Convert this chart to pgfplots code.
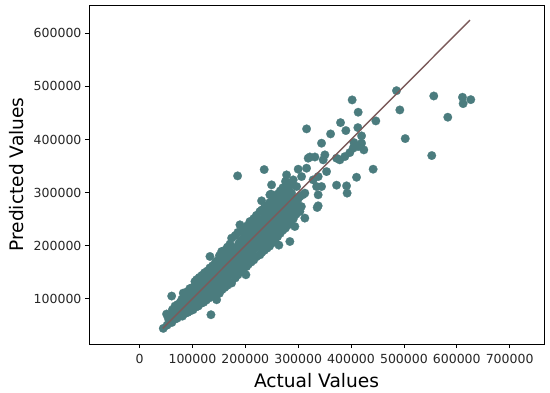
\documentclass[border=0pt]{standalone}
\usepackage{pgfplots}
\pgfplotsset{compat=1.18}
\usepackage{fontspec}
\setmainfont{DejaVu Sans}
\definecolor{ptcol}{HTML}{4B7C7E}
\definecolor{lncol}{HTML}{7B5A5A}
\begin{document}
\begin{tikzpicture}
\path[use as bounding box] (-89pt,-48pt) rectangle (461pt,344pt);
\begin{axis}[
  scale only axis, width=455pt, height=339pt,
  xmin=-95700, xmax=765000, ymin=14500, ymax=653500,
  xtick={0,100000,200000,300000,400000,500000,600000,700000},
  ytick={100000,200000,300000,400000,500000,600000},
  scaled ticks=false,
  /pgf/number format/.cd, fixed, 1000 sep={}, assume math mode=true,
  /pgfplots/.cd,
  clip marker paths=true,
  tick align=outside, xtick pos=bottom, ytick pos=left,
  major tick length=4pt,
  tick style={black, line width=0.8pt},
  axis line style={black, line width=0.8pt},
  ticklabel style={font=\fontsize{12.5}{15}\selectfont, text=black!85},
  xticklabel style={yshift=-2.5pt},
  xlabel={Actual Values}, ylabel={Predicted Values},
  xlabel style={font=\fontsize{18.6}{22}\selectfont, at={(axis description cs:0.5,-0.1289)}, anchor=base},
  ylabel style={font=\fontsize{18.6}{22}\selectfont, at={(axis description cs:-0.1444,0.5)}, anchor=base},
]
\addplot[only marks, mark=*, mark size=4.3pt, mark options={fill=ptcol, draw=ptcol, line width=0.2pt}] coordinates {
(44800,43900)
(51000,71000) (52000,50000) (56000,59000) (54000,64000)
(61000,55000) (59000,68000) (62000,79000) (60700,104900)
(66000,61000) (64000,73000) (67000,86000)
(71000,63000) (69000,77000) (72000,89000)
(76000,69000) (74000,81000) (77000,93000)
(81000,67000) (79000,79000) (82000,91000) (80000,99000) (82600,110500)
(86000,72000) (84000,85000) (87000,96000) (85000,105000)
(91000,74000) (89000,86000) (92000,101000) (90000,113000)
(96000,77000) (94000,91000) (97000,103000) (95000,119000)
(101000,79000) (99000,93000) (102000,107000) (100000,121000) (104700,132400)
(106000,84000) (104000,97000) (107000,111000) (105000,124000) (108000,136000)
(111000,86000) (109000,101000) (112000,115000) (110000,129000) (113000,140000)
(116000,91000) (114000,104000) (117000,119000) (115000,133000) (118000,144000)
(121000,93000) (119000,107000) (122000,121000) (120000,135000) (123000,149000)
(126000,97000) (124000,111000) (127000,125000) (125000,139000) (128000,152000)
(131000,101000) (129000,115000) (132000,129000) (130000,143000) (133000,158000)
(133100,179500) (135000,69700)
(136000,104000) (134000,118000) (137000,133000) (135000,147000) (138000,162000)
(141000,107000) (139000,121000) (142000,137000) (140000,151000) (143000,167000)
(145700,97900) (144000,112000) (147000,127000) (145000,141000) (148000,156000) (146000,171000)
(151000,110000) (149000,125000) (152000,139000) (150000,153000) (153000,167000) (151000,181000)
(156000,117000) (154000,131000) (157000,145000) (155000,159000) (158000,173000) (155200,188900)
(161000,121000) (159000,135000) (162000,149000) (160000,163000) (163000,177000) (161000,191000)
(166000,125000) (164000,139000) (167000,153000) (165000,167000) (168000,181000) (166000,197000)
(171000,131000) (169000,145000) (172000,159000) (170000,173000) (173000,187000) (171000,203000)
(174100,129400) (176000,147000) (177000,163000) (175000,177000) (178000,193000) (174100,214100)
(181000,139000) (179000,153000) (182000,167000) (180000,181000) (183000,197000) (181000,219000)
(186000,145000) (184000,159000) (187000,173000) (185000,189000) (188000,205000) (186000,225000) (185400,331400)
(191000,151000) (189000,165000) (192000,179000) (190000,195000) (193000,211000) (189800,239200)
(196000,155000) (194000,169000) (197000,185000) (195000,201000) (198000,217000) (196000,231000)
(201100,145000) (202400,160600) (201000,175000) (199000,191000) (202000,207000) (200000,223000) (203000,237000)
(206000,165000) (204000,181000) (207000,197000) (205000,213000) (208000,229000) (208700,245400)
(211000,169000) (209000,185000) (212000,201000) (210000,217000) (213000,233000)
(216000,173000) (214000,189000) (217000,205000) (215000,221000) (218000,237000) (216000,251000)
(221000,179000) (219000,195000) (222000,211000) (220000,227000) (223000,243000) (221000,257000)
(227600,182600) (224000,199000) (227000,215000) (225000,231000) (228000,247000) (227600,264200)
(231000,187000) (229000,203000) (232000,219000) (230000,235000) (233000,251000) (231000,267000) (230800,284400)
(236000,191000) (234000,207000) (237000,223000) (235000,239000) (238000,255000) (236000,271000) (235700,343300)
(241000,195000) (239000,211000) (242000,227000) (240000,243000) (243000,259000) (241000,275000)
(246000,199000) (244000,215000) (247000,231000) (245000,247000) (248000,263000) (246000,281000) (246500,295700)
(251000,205000) (249000,221000) (252000,237000) (250000,253000) (253000,269000) (251000,285000) (248400,297000) (249700,314500)
(256000,211000) (254000,227000) (257000,243000) (255000,259000) (258000,275000) (256000,291000)
(261000,217000) (259000,233000) (262000,249000) (260000,265000) (263000,281000) (261000,297000)
(263500,200900)
(266000,223000) (264000,239000) (267000,255000) (265000,271000) (268000,287000) (266000,303000)
(271000,229000) (269000,245000) (272000,261000) (270000,277000) (273000,293000) (271000,309000)
(276000,233000) (274000,251000) (277000,269000) (275000,287000) (278000,305000) (276000,321000) (278000,333300)
(281000,239000) (279000,257000) (282000,275000) (280000,293000) (283000,311000)
(284300,207700)
(286000,245000) (284000,263000) (287000,281000) (285000,299000) (288000,316000)
(291000,251000) (289000,269000) (292000,287000) (290600,323900)
(293700,236000)
(296000,259000) (294000,277000) (297000,280000) (297000,311300) (287500,298900)
(300000,265000) (300000,288000) (300000,344000)
(303200,264300) (303200,292500) (306000,273600) (306400,330100)
(312600,251800) (312600,298900) (309000,296000)
(315900,420000) (315900,345900) (318900,364700) (322100,367000) (331600,367000)
(328300,323900) (334800,311300) (337800,295700) (337800,330100) (337800,275000) (335900,271800)
(344200,311300) (353700,339500) (347300,361600) (350500,371000) (344200,393000)
(361300,410500) (380100,431800) (390200,416800) (412900,422400) (419900,406800)
(413500,451400) (402100,474600) (446900,435000) (486000,492000) (492300,455700) (502500,401700)
(405500,394200) (413500,386700) (404000,383600) (419900,393000) (424200,380400)
(397700,375300) (388300,367800) (378800,361600) (372500,364700)
(441800,344000) (410400,328800) (372600,313900) (391500,312600) (392600,298900)
(556500,482000) (583000,442000) (552700,369700) (610800,479600) (626500,475100) (612000,467600)
};
\addplot[lncol, line width=1.4pt] coordinates {(44000,44000) (625000,625000)};
\end{axis}
\end{tikzpicture}
\end{document}
